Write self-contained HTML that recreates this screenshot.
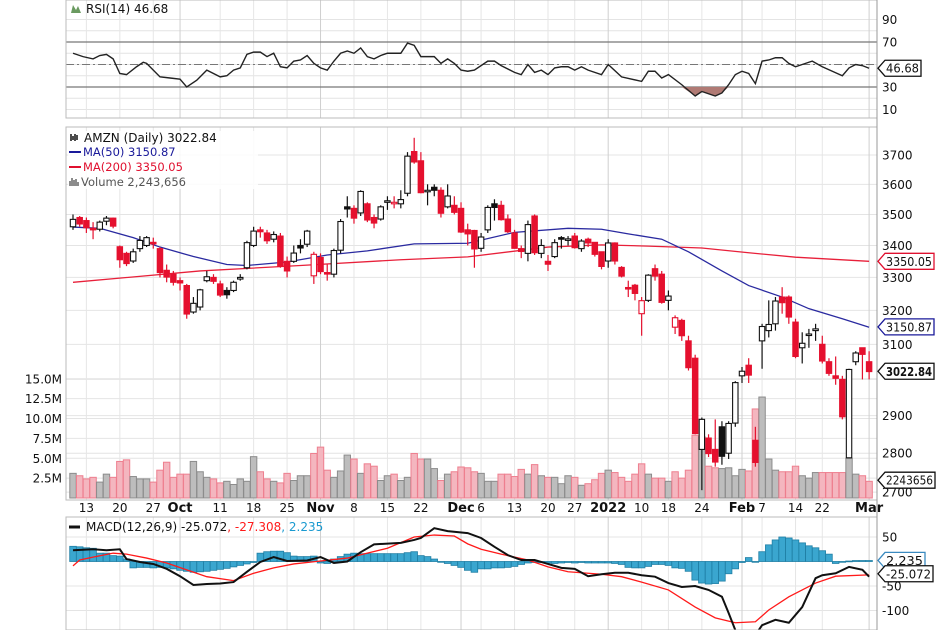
<!DOCTYPE html>
<html><head><meta charset="utf-8"><style>
html,body{margin:0;padding:0;background:#fff;}
svg{display:block;font-family:"DejaVu Sans","Liberation Sans",sans-serif;}
</style></head><body>
<svg id="chart" width="936" height="630" viewBox="0 0 936 630">
<g id="grid"></g>
<g id="vol"></g>
<g id="rsi"></g>
<g id="price"></g>
<g id="macd"></g>
<g id="axes"></g>
<g id="legend">
  <text x="86" y="13" font-size="12" fill="#111">RSI(14) 46.68</text>
  <path d="M71 13 L73 5 L76 10 L78 6 L81 13 Z" fill="#6a9a60"/>
  <rect x="68" y="131" width="190" height="58" fill="#fff" opacity="0.85"/>
  <text x="84" y="142" font-size="12" fill="#111">AMZN (Daily) 3022.84</text>
  <path d="M71 134v7M73 136v4M75 134v7M77 135v5" stroke="#111" stroke-width="1.5"/>
  <line x1="69" y1="152" x2="81" y2="152" stroke="#1a1a9a" stroke-width="2"/>
  <text x="83" y="156" font-size="11.5" fill="#1a1a9a">MA(50) 3150.87</text>
  <line x1="69" y1="167" x2="81" y2="167" stroke="#e0102f" stroke-width="2"/>
  <text x="83" y="171" font-size="11.5" fill="#e0102f">MA(200) 3350.05</text>
  <path d="M70 186v-5M72 186v-8M74 186v-6M76 186v-7M78 186v-4" stroke="#666" stroke-width="1.5"/>
  <text x="81" y="186" font-size="11.5" fill="#555">Volume 2,243,656</text>
  <line x1="69" y1="527" x2="80" y2="527" stroke="#111" stroke-width="3"/>
  <text x="86" y="531" font-size="12"><tspan fill="#111">MACD(12,26,9) -25.072</tspan><tspan fill="#ff1a1a">, -27.308</tspan><tspan fill="#1a9ad0">, 2.235</tspan></text>
</g>
</svg>
<script>
// ---- data ----
const dayLabels = ["13","20","27","Oct","11","18","25","Nov","8","15","22","Dec","6","13","20","27","2022","10","18","24","Feb","7","14","22","Mar"];
const dayLabelIdx = [2,7,12,16,22,27,32,37,42,47,52,58,61,66,71,75,80,85,89,94,100,103,108,112,119];
const monthIdx = [16,37,58,80,100,119];
const opens = [3460,3490,3480,3455,3452,3478,3488,3396,3375,3351,3390,3400,3410,3390,3322,3310,
3290,3275,3195,3210,3290,3300,3280,3260,3260,3295,3330,3400,3450,3440,3420,3430,3350,3350,3400,3404,3305,
3362,3315,3310,3385,3525,3520,3505,3535,3490,3485,3540,3535,3535,3570,3712,3680,3580,3590,3580,3525,3530,
3520,3450,3448,3391,3450,3535,3530,3485,3440,3390,3375,3495,3375,3350,3365,3425,3420,3430,3390,3420,3410,3380,
3351,3408,3331,3269,3276,3190,3230,3327,3310,3230,3150,3170,3110,3060,2810,2840,2810,2870,2800,2880,
3010,3040,2834,3110,3140,3160,3240,3240,3165,3090,3130,3140,3100,3050,3010,3000,2788,3050,3090,
3050];
const highs = [3500,3495,3490,3475,3480,3495,3490,3400,3380,3390,3430,3430,3425,3395,3340,3320,
3300,3280,3240,3265,3320,3310,3290,3270,3290,3310,3415,3460,3460,3450,3445,3440,3365,3400,3420,3450,3380,
3375,3340,3390,3485,3560,3530,3580,3540,3500,3530,3560,3560,3580,3710,3760,3710,3600,3600,3590,3600,3560,
3540,3470,3450,3440,3530,3550,3545,3500,3450,3400,3480,3500,3420,3370,3420,3430,3430,3440,3420,3425,3410,3380,
3420,3410,3335,3290,3280,3240,3310,3340,3320,3260,3185,3175,3125,3070,2895,2850,2890,2885,2885,2995,
3035,3060,2870,3160,3230,3240,3270,3245,3175,3135,3145,3160,3125,3060,3065,3010,3030,3080,3090,
3080];
const lows = [3450,3460,3440,3420,3445,3465,3455,3330,3335,3345,3380,3395,3390,3300,3285,3275,
3260,3175,3190,3200,3285,3280,3240,3235,3255,3290,3325,3395,3425,3405,3410,3330,3300,3345,3375,3395,3280,
3310,3290,3300,3375,3490,3470,3495,3475,3455,3480,3515,3520,3520,3560,3670,3570,3530,3560,3490,3520,3500,
3440,3400,3330,3380,3440,3480,3480,3440,3390,3360,3350,3370,3360,3320,3360,3390,3400,3390,3380,3395,3365,3325,
3330,3340,3300,3240,3230,3125,3225,3290,3220,3200,3130,3110,3025,2850,2705,2790,2765,2770,2785,2870,
2990,2990,2765,3030,3120,3140,3190,3160,3060,3045,3090,3110,3045,3010,2985,2890,2790,3040,3000,
3000];
const closes = [3484,3469,3457,3450,3475,3488,3462,3355,3343,3380,3416,3425,3405,3315,3301,3285,
3283,3189,3221,3262,3302,3288,3246,3247,3285,3300,3409,3446,3444,3415,3435,3335,3320,3376,3392,3446,3372,
3318,3312,3384,3477,3518,3488,3576,3482,3472,3525,3545,3540,3549,3696,3676,3572,3580,3580,3504,3561,3507,
3443,3437,3389,3427,3523,3523,3483,3444,3391,3381,3467,3377,3400,3341,3409,3420,3421,3393,3414,3408,3372,3334,
3408,3351,3304,3266,3251,3229,3307,3304,3224,3243,3178,3125,3033,2852,2890,2799,2777,2792,2879,2991,
3023,3012,2776,3152,3158,3228,3223,3180,3065,3103,3130,3145,3052,3017,3003,2897,3028,3075,3071,
3022];
const volumes = [3.1,2.8,2.4,2.6,2.0,3.0,2.6,4.6,4.8,2.7,2.4,2.4,2.0,3.5,4.5,2.6,3.0,3.0,4.6,3.3,2.6,2.4,1.9,2.1,1.7,2.4,2.1,5.2,3.3,2.4,2.1,1.9,3.1,2.2,2.8,2.8,5.6,6.4,3.5,2.6,3.4,5.4,4.9,3.1,4.3,4.0,2.2,2.8,3.0,2.2,2.6,5.6,4.9,4.9,3.7,2.2,3.0,3.3,3.9,3.8,3.3,
3.1,2.1,2.1,3.0,3.0,2.7,3.6,3.0,4.2,2.8,2.6,2.6,1.8,2.8,2.6,1.6,1.8,2.3,3.1,3.5,3.2,2.6,2.1,3.0,4.3,3.0,2.5,2.5,2.1,3.3,2.5,3.5,7.9,7.7,
4.0,3.8,3.7,3.8,2.8,3.6,3.4,11.2,12.7,4.9,3.5,3.3,3.3,4.0,2.8,2.5,3.2,3.2,3.2,3.2,3.2,5.0,3.0,2.8,2.1];
const ma50Day = [0,4,9,13,18,23,26,32,38,44,51,59,66,74,79,83,88,92,97,101,106,110,115,119];
const ma50Val = [3459,3455,3425,3395,3365,3340,3337,3348,3370,3383,3405,3407,3442,3455,3452,3437,3420,3380,3320,3275,3240,3205,3175,3150];
const ma200Day = [0,19,34,49,59,71,79,86,94,101,108,119];
const ma200Val = [3285,3320,3337,3355,3364,3395,3402,3398,3392,3377,3363,3350];
const rsiDay = [0,1.5,3,4,5,6,7,8,9.5,10.5,11,13,14.5,16,17,18.5,20,22,23,24,25,26,27,28,29,30,31,32,33,34,35,36,37,38,39,40,41,42,43,44,45,46,47,49,50,51,52,54,55,56,57,58,59,
60,62,63,64,66,67,68,69,70,71,72,73,74,75,76,77,79,80,82,85,86,87,88,89,91,93,94,96,97,98,99,100,101,102,103,104,105,106,107,108,109,110.5,112,113.5,115,116,117,118,119];
const rsiVal = [60,57,55,58,59,55,42,41,48,52,51,39,38,37,30,36,45,39,40,45,47,59,61,61,57,60,48,47,53,54,58,51,47,45,53,60,62,60,64.7,57,55,58,60,60,69,67,57,57,51,55,51,45,44,
45,53,53,49,43,41,50,43,45,41,47,48,48,45,48,45,41,50,39,35,44,44,38,41,32,22,26,22,24.7,32,41,44,42,33,53,54,56,56,51,48,50,53,48,44,40,47,50,49,46.68];
const macdDay = [0,3,5,7,8,10,12,14,16,18,20,22,24,26,28,30,32,35,37,39,41,43,45,49,51,52,54,56,59,61,63,65,67,69,71,73,75,77,79,81,83,85,87,89,91,93,95,97,98,99,101,102,103,105,107,109,111,112,114,116,118,119];
const macdVal = [23,25,23,25,5,-1,-5,-15,-30,-48,-46,-45,-42,-21,-1,9,1,2,9,-3,0,19,35,38,44,48,68,62,58,48,30,13,3,3,-5,-13,-15,-30,-26,-23,-23,-28,-31,-44,-52,-50,-58,-72,-105,-140,-165,-150,-130,-119,-125,-93,-34,-28,-24,-11,-17,-31,-33,-26,-25];
const signalDay = [0,1,3,6,8,11,14,17,20,24,27,30,33,37,41,44,47,51,54,57,59,61,64,68,71,74,79,82,85,89,93,96,99,102,104,107,111,114,119];
const signalVal = [-9,3,9,17,15,7,-3,-17,-31,-39,-24,-13,-5,1,7,17,27,50,54,52,36,25,15,3,-11,-21,-26,-31,-42,-58,-93,-115,-125,-123,-99,-72,-44,-30,-27.3];
const histVal = [31,30,28,27,17,17,12,11,5,-13,-12,-12,-13,-12,-13,-15,-18,-20,-22,-21,-20,-18,-16,-14,-11,-8,-5,-2,17,20,21,21,18,11,10,10,11,-3,-4,5,10,15,17,16,16,16,16,16,16,16,18,20,12,10,5,0,-4,-8,-12,-18,-22,-15,-15,-13,-13,-12,-10,-6,-3,-2,-2,-3,-4,-3,-2,-3,-2,-3,-3,-3,-3,-4,-6,-12,-13,-13,-10,-6,-6,-8,-13,-14,-20,-38,-44,-46,-45,-40,-25,-15,-2,8,-1,20,34,44,50,48,44,38,32,28,22,15,-4,-1,1,2,2,2];
const priceTicks = [3700,3600,3500,3400,3300,3200,3100,2900,2800,2700];
const priceGrid = [3700,3600,3500,3400,3300,3200,3100,3000,2900,2800,2700];
const volTicks = [15,12.5,10,7.5,5,2.5];
const rsiTicks = [90,70,30,10];
const macdTicks = [50,-50,-100];

// ---- scales ----
const L=66, R=877;
const NS="http://www.w3.org/2000/svg";
const X = i => 73 + i*6.69;
const PY = p => 155 + Math.log(3700/p)*1070;
const VY = v => 498 - v*7.95;
const RY = v => 42 + (70-v)*1.125;
const MY = v => 561.5 - v*0.49;
function mk(tag, attrs, parent){const e=document.createElementNS(NS,tag);for(const k in attrs)e.setAttribute(k,attrs[k]);parent.appendChild(e);return e;}
const G=id=>document.getElementById(id);

// ---- grid ----
const grid=G('grid');
for(let v=10; v<=90; v+=10){const l=mk('line',{x1:L,x2:R,y1:RY(v),y2:RY(v),stroke:'#e4e4e4'},grid);

}
priceGrid.forEach(p=>{const l=mk('line',{x1:L,x2:R,y1:PY(p),y2:PY(p),stroke:'#e4e4e4'},grid);

});
volTicks.forEach(v=>{const l=mk('line',{x1:L,x2:R,y1:VY(v),y2:VY(v),stroke:'#e4e4e4'},grid);

});
macdTicks.forEach(v=>{const l=mk('line',{x1:L,x2:R,y1:MY(v),y2:MY(v),stroke:'#e4e4e4'},grid);

});
dayLabelIdx.forEach((d,k)=>{const isM=monthIdx.includes(d);const x=X(d);
 [[0,118],[127,500],[517,630]].forEach(s=>{const l=mk('line',{x1:x,x2:x,y1:s[0],y2:s[1],stroke:isM?'#cfcfcf':'#e6e6e6'},grid);
 
 });
 const t=mk('text',{x:x,y:512,'text-anchor':'middle','font-size':isM?13:12,'font-weight':isM?'bold':'normal',fill:'#111'},grid);
 t.textContent=dayLabels[k];
 
 });

// ---- volume ----
const vol=G('vol');
volumes.forEach((v,i)=>{const down=i>0&&closes[i]<closes[i-1];
 const r=mk('rect',{x:X(i)-3.2,y:VY(v),width:6.4,height:498-VY(v),fill:down?'#f4b6bf':'#bdbdbd',stroke:down?'#ee7f8f':'#8c8c8c','stroke-width':1},vol);
 
 });

// ---- RSI ----
const rsi=G('rsi');
[[70,'#777'],[30,'#777']].forEach(a=>{const l=mk('line',{x1:L,x2:R,y1:RY(a[0]),y2:RY(a[0]),stroke:a[1],'stroke-width':1.2},rsi);

});
const mid=mk('line',{x1:L,x2:R,y1:RY(50),y2:RY(50),stroke:'#777','stroke-dasharray':'8 3 2 3'},rsi);


let fillPts=[];
rsiDay.forEach((d,k)=>{if(d>=90&&d<=99){fillPts.push(X(d)+','+RY(Math.min(rsiVal[k],30)));}});
if(fillPts.length){const f=mk('polygon',{points:X(90.3)+','+RY(30)+' '+fillPts.join(' ')+' '+X(98.6)+','+RY(30),fill:'#b07a74'},rsi);

}
const rl=mk('polyline',{points:rsiDay.map((d,k)=>X(d)+','+RY(rsiVal[k])).join(' '),fill:'none',stroke:'#222','stroke-width':1.4},rsi);



// ---- price ----
const pr=G('price');
const m200=mk('polyline',{points:ma200Day.map((d,k)=>X(d)+','+PY(ma200Val[k])).join(' '),fill:'none',stroke:'#e8203a','stroke-width':1.3},pr);


const m50=mk('polyline',{points:ma50Day.map((d,k)=>X(d)+','+PY(ma50Val[k])).join(' '),fill:'none',stroke:'#2a2aa0','stroke-width':1.3},pr);


closes.forEach((c,i)=>{const o=opens[i];const down=i>0&&c<closes[i-1];const col=down?'#e5102e':'#111';
 const g=mk('g',{},pr);
 
 
 mk('line',{x1:X(i),x2:X(i),y1:PY(highs[i]),y2:PY(lows[i]),stroke:col,'stroke-width':1.2},g);
 const top=PY(Math.max(o,c)),bot=PY(Math.min(o,c));
 mk('rect',{x:X(i)-2.7,y:top,width:5.4,height:Math.max(1.5,bot-top),fill:c<o?col:'#fff',stroke:col,'stroke-width':1.1},g);});

// ---- MACD ----
const mc=G('macd');
histVal.forEach((v,i)=>{const y0=MY(0),y1=MY(v);
 const r=mk('rect',{x:X(i)-3.3,y:Math.min(y0,y1),width:6.6,height:Math.max(0.8,Math.abs(y1-y0)),fill:'#3aa6cf',stroke:'#1f7fa5','stroke-width':0.8},mc);
 
 });
const sg=mk('polyline',{points:signalDay.map((d,k)=>X(d)+','+MY(signalVal[k])).join(' '),fill:'none',stroke:'#ff1a1a','stroke-width':1.3},mc);


const ml=mk('polyline',{points:macdDay.map((d,k)=>X(d)+','+MY(macdVal[k])).join(' '),fill:'none',stroke:'#111','stroke-width':2},mc);



// ---- axes ----
const ax=G('axes');
const clipTop=mk('rect',{x:0,y:118,width:936,height:9,fill:'#fff'},ax);


[[0,118],[127,500],[517,630]].forEach(s=>{
 const b=mk('rect',{x:L,y:s[0],width:R-L,height:s[1]-s[0],fill:'none',stroke:'#bbb'},ax);
 
 });
const va=mk('line',{x1:R,x2:R,y1:0,y2:630,stroke:'#999'},ax);


function lab(txt,y,name){const t=mk('text',{x:882,y:y+4.5,'font-size':12,fill:'#111'},ax);t.textContent=txt;
 
 }
rsiTicks.forEach(v=>lab(String(v),RY(v),'rsi-tick-label'));
priceTicks.forEach(v=>lab(String(v),PY(v),'price-tick-label'));
macdTicks.forEach(v=>lab(String(v),MY(v),'macd-tick-label'));
volTicks.forEach(v=>{const t=mk('text',{x:62,y:VY(v)+4.5,'text-anchor':'end','font-size':12,fill:'#111'},ax);t.textContent=v.toFixed(1)+'M';
 
 });
function box(txt,y,col,bold,name,w){const g=mk('g',{},ax);
 
 
 w=w||54;
 mk('polygon',{points:`878,${y} 885,${y-8} ${885+w},${y-8} ${885+w},${y+8} 885,${y+8}`,fill:'#fff',stroke:col,'stroke-width':1.3},g);
 const t=mk('text',{x:886,y:y+4.5,'font-size':12,'font-weight':bold?'bold':'normal',fill:'#111',textLength:w-3,lengthAdjust:'spacingAndGlyphs'},g);t.textContent=txt;}
box('46.68',RY(46.68),'#111',false,'rsi-value-box',36);
box('3350.05',PY(3350),'#e0102f',false,'ma200-value-box',49);
box('3150.87',PY(3150.87),'#1a1a9a',false,'ma50-value-box',49);
box('3022.84',PY(3022.84),'#111',true,'last-price-box',49);
box('2243656',VY(2.24),'#111',false,'volume-value-box',50);
box('2.235',MY(2.235),'#3a8ac0',false,'histogram-value-box',40);
box('-25.072',MY(-25.072),'#111',false,'macd-value-box',48);
</script>
</body></html>
